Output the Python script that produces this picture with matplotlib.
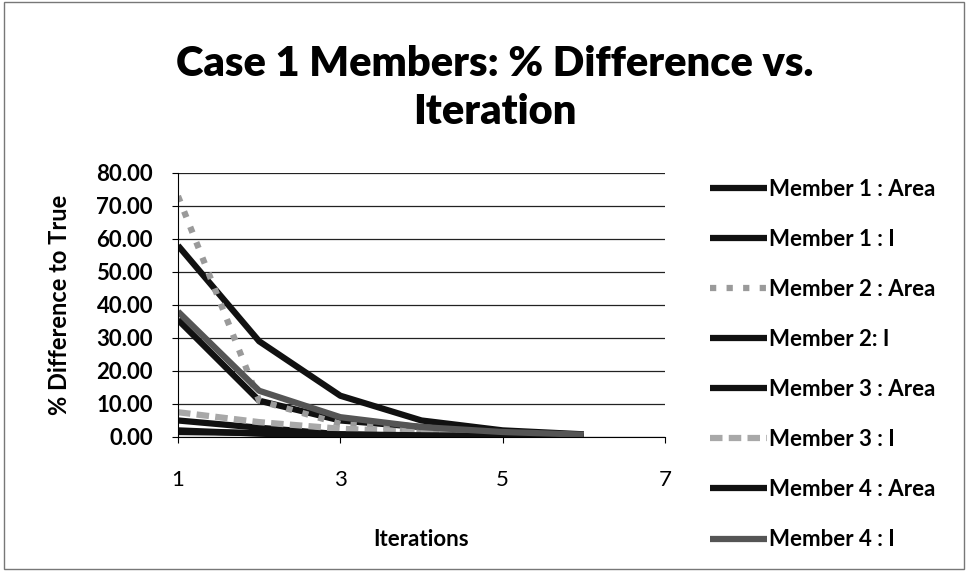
import matplotlib
matplotlib.use("Agg")
from matplotlib import pyplot as plt
from matplotlib.patches import Rectangle
import numpy

plt.rcParams['font.family'] = ['Lato', 'DejaVu Sans']

iterations = [1, 2, 3, 4, 5, 6]

m1_area = [58.0, 29.0, 12.5, 5.0, 2.0, 0.8]
m1_i = [35.5, 11.0, 5.0, 3.0, 1.5, 0.6]
m2_area = [73.0, 11.0, 4.0, 2.0, 1.0, 0.5]
m2_i = [5.0, 2.8, 0.8, 0.3, 0.1, 0.05]
m3_area = [2.0, 1.0, 0.3, 0.1, 0.05, 0.02]
m3_i = [7.5, 4.5, 2.5, 1.5, 0.8, 0.4]
m4_area = [1.5, 1.2, 0.8, 0.5, 0.3, 0.2]
m4_i = [38.0, 14.0, 6.0, 3.0, 1.5, 0.7]

labels = ["Member 1 : Area", "Member 1 : I", "Member 2 : Area", "Member 2: I",
          "Member 3 : Area", "Member 3 : I", "Member 4 : Area", "Member 4 : I"]
series = [m1_area, m1_i, m2_area, m2_i, m3_area, m3_i, m4_area, m4_i]
colors = ['#111111', '#111111', '#9a9a9a', '#111111',
          '#111111', '#a8a8a8', '#111111', '#555555']
styles = ['-', '-', ':', '-', '-', (0, (2, 1)), '-', '-']

fig = plt.figure(figsize=(9.7, 5.79), dpi=100)
ax = fig.add_axes([0.1835, 0.2453, 0.502, 0.456])

for vals, lab, c, ls in zip(series, labels, colors, styles):
    ax.plot(iterations, vals, color=c, linestyle=ls, linewidth=4.5, label=lab,
            solid_capstyle='butt')

ax.set_xlim(1, 7)
ax.set_ylim(0, 80)
ax.set_xticks([1, 3, 5, 7])
ax.set_yticks(numpy.arange(0, 81, 10))
ax.set_yticklabels(["%.2f" % v for v in numpy.arange(0, 81, 10)])
ax.tick_params(axis='both', labelsize=16, length=4, width=0.8)
ax.tick_params(axis='x', pad=20)
ax.tick_params(axis='y', pad=14)
for t in ax.get_xticklabels() + ax.get_yticklabels():
    t.set_fontweight('bold')
ax.yaxis.grid(True, color='#222222', linewidth=0.9)
for s in ['top', 'right']:
    ax.spines[s].set_visible(False)
ax.spines['bottom'].set_position(('data', 0))

ax.set_xlabel("Iterations", fontsize=16, fontweight='bold', labelpad=28)
ax.set_ylabel("% Difference to True", fontsize=17, fontweight='bold', labelpad=18)

fig.suptitle("Case 1 Members: % Difference vs.\nIteration", fontsize=30,
             fontweight='heavy', x=0.51, y=0.922, linespacing=1.32)

fig.legend(loc='upper left', bbox_to_anchor=(0.723, 0.707), frameon=False,
           prop={'weight': 'bold', 'size': 16},
           handlelength=2.55, handletextpad=0.1, labelspacing=1.31,
           borderaxespad=0)

fig.patches.append(Rectangle((0.004, 0.018), 0.99, 0.978, transform=fig.transFigure,
                             fill=False, edgecolor='#777777', linewidth=1.0))

fig.savefig("out.png", dpi=100)
